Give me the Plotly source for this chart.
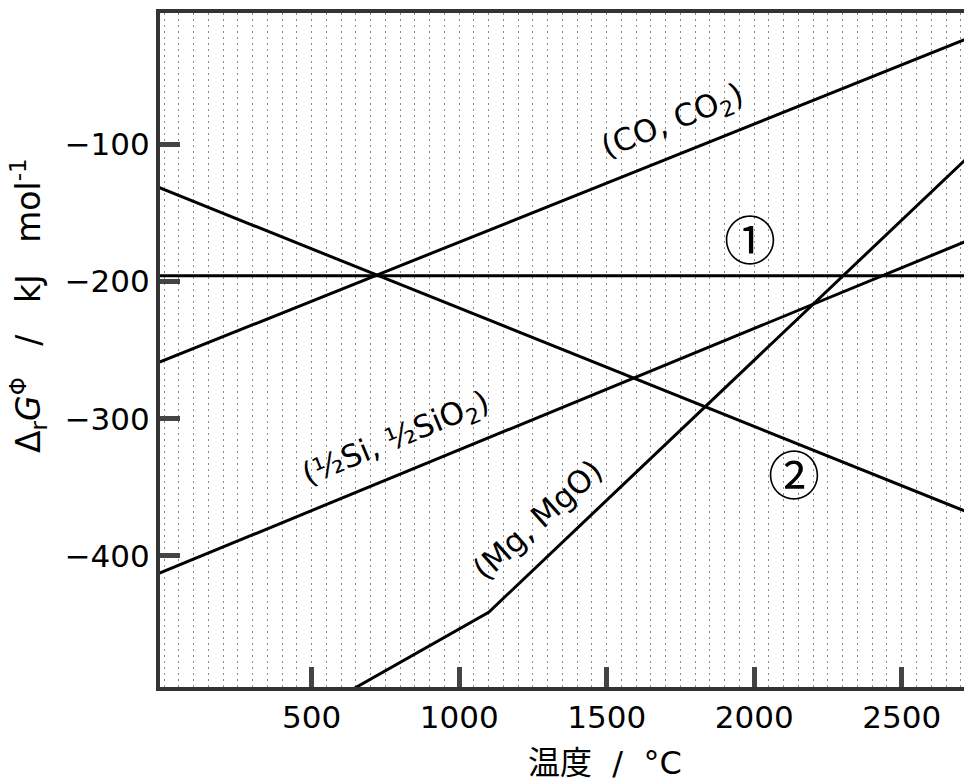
import plotly.graph_objects as go

# Data
x_line = [-20, 2750]
y_r1 = [-196, -196]                 # reaction ①
y_r2 = [-131.5, -370.4]             # reaction ②
y_co = [-259.2, -20.9]              # (CO, CO2)
y_si = [-412.9, -168.0]             # (1/2 Si, 1/2 SiO2)
x_mg = [600, 1100, 2750]
y_mg = [-501.8, -441.0, -104.4]     # (Mg, MgO)

x_ticks = [500, 1000, 1500, 2000, 2500]
y_ticks = [-100, -200, -300, -400]

fig = go.Figure()
line_style = dict(color="black", width=3)
for xs, ys in [(x_line, y_r1), (x_line, y_r2), (x_line, y_co), (x_line, y_si), (x_mg, y_mg)]:
    fig.add_trace(go.Scatter(x=xs, y=ys, mode="lines", line=line_style,
                             showlegend=False, hoverinfo="skip"))

font_main = "DejaVu Sans, Liberation Sans, sans-serif"
font_cjk = "DejaVu Sans, Noto Sans CJK JP, sans-serif"

annotations = [
    dict(x=1724, y=-84, text="(CO, CO<sub>2</sub>)", textangle=-22,
         font=dict(size=31, family=font_main, color="black")),
    dict(x=789, y=-315.5, text="(½Si, ½SiO<sub>2</sub>)", textangle=-22.5,
         font=dict(size=31, family=font_main, color="black")),
    dict(x=1264, y=-373.8, text="(Mg, MgO)", textangle=-42,
         font=dict(size=31, family=font_main, color="black")),
    dict(x=1985, y=-167.8, text="①", font=dict(size=52, family="Noto Sans CJK JP", color="black")),
    dict(x=2135, y=-339.0, text="②", font=dict(size=52, family="Noto Sans CJK JP", color="black")),
]
for a in annotations:
    a.update(xref="x", yref="y", showarrow=False, xanchor="center", yanchor="middle")
    fig.add_annotation(**a)

fig.add_annotation(xref="paper", yref="paper", x=(28 - 160) / 804, y=(687 - 306) / 674,
                   xanchor="center", yanchor="middle",
                   text="Δ<sub>r</sub><i>G</i><sup>Φ</sup>   /   kJ   mol<sup>-1</sup>",
                   textangle=-90, showarrow=False,
                   font=dict(size=33, family=font_main, color="black"))
fig.add_annotation(xref="paper", yref="paper", x=(605 - 160) / 804, y=(687 - 763) / 674,
                   xanchor="center", yanchor="middle",
                   text="温度  /  °C", showarrow=False,
                   font=dict(size=32, family=font_cjk, color="black"))

fig.update_layout(
    width=964, height=782,
    margin=dict(l=160, r=0, t=13, b=95),
    paper_bgcolor="white", plot_bgcolor="white",
    xaxis=dict(range=[-14, 2711], tickvals=x_ticks, ticktext=[str(v) for v in x_ticks],
               ticks="inside", ticklen=20, tickwidth=5, tickcolor="#444",
               showline=True, linewidth=4, linecolor="#333", mirror=True,
               showgrid=True, gridcolor="#888", gridwidth=1, griddash="2px,4px",
               minor=dict(dtick=50, tick0=0, showgrid=True, gridcolor="#888",
                          gridwidth=1, griddash="2px,4px"),
               zeroline=False,
               tickfont=dict(size=31, family=font_main, color="black")),
    yaxis=dict(range=[-495.4, -4.6], tickvals=y_ticks,
               ticks="inside", ticklen=20, tickwidth=5, tickcolor="#444",
               showline=True, linewidth=4, linecolor="#333", mirror=False,
               showgrid=False, zeroline=False,
               tickfont=dict(size=31, family=font_main, color="black")),
)

fig.write_html("out.html", config={"displayModeBar": False},
               post_script="document.body.style.margin='0px';")
